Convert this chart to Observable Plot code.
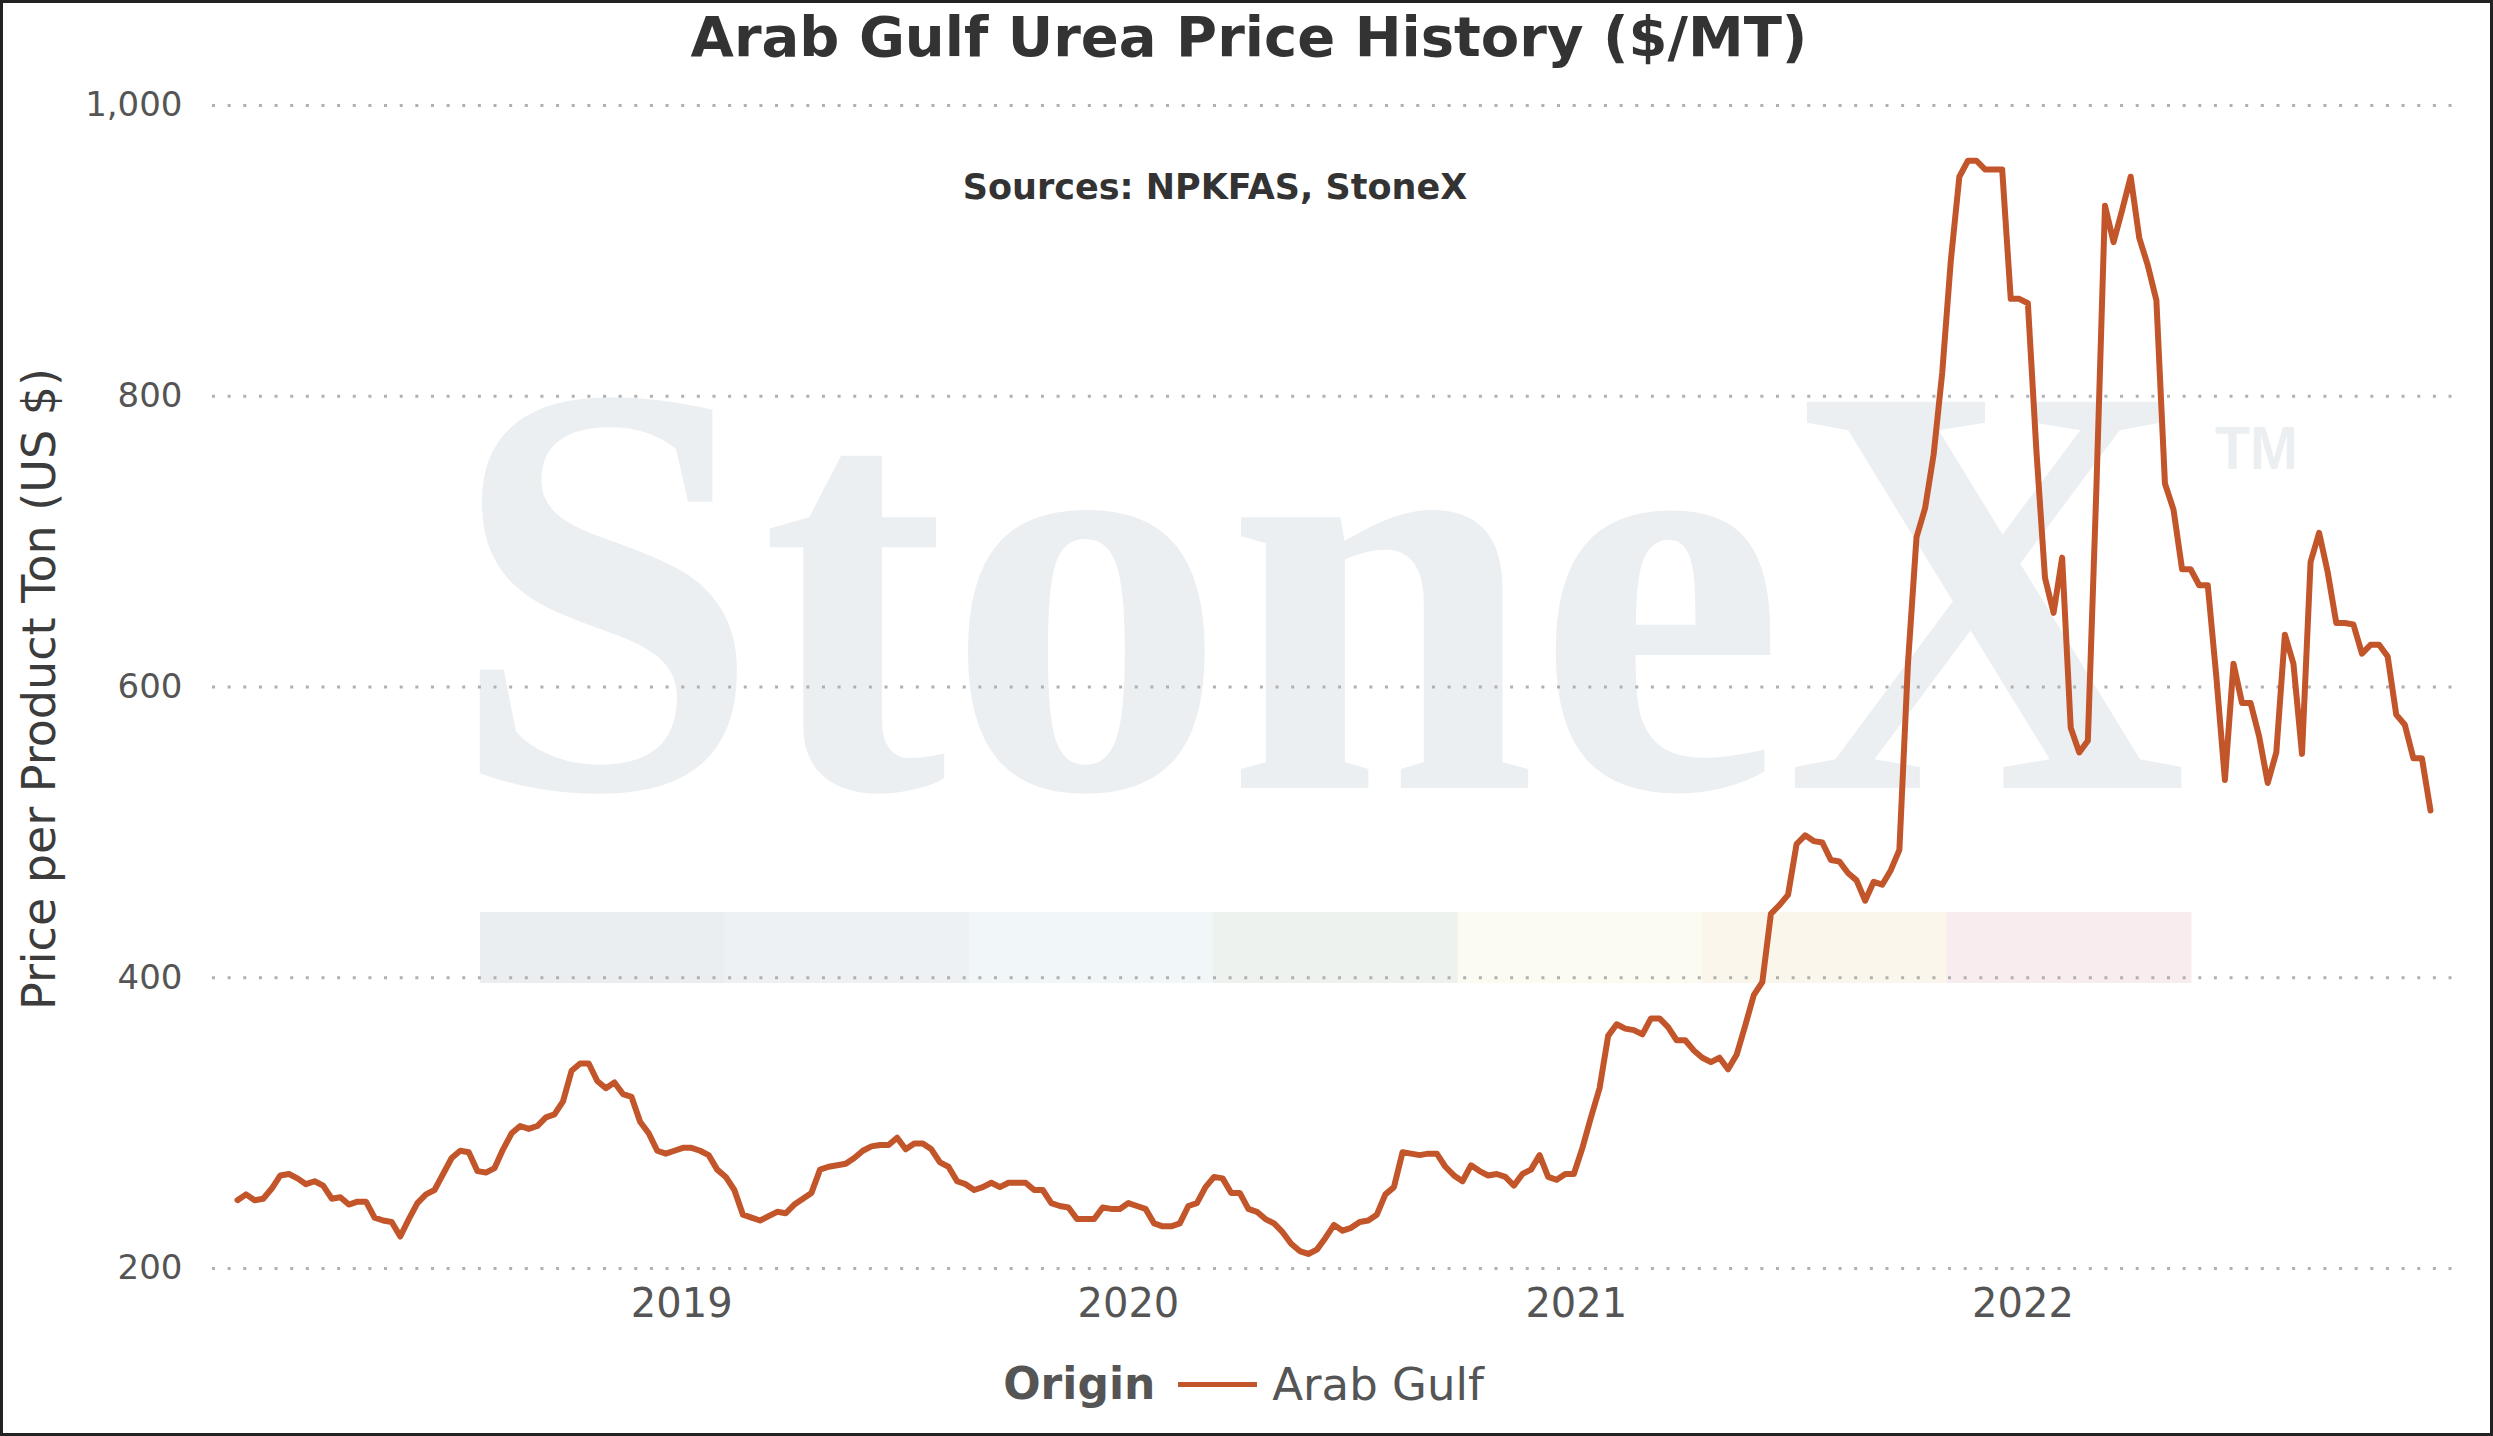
<!DOCTYPE html>
<html><head><meta charset="utf-8">
<script src="https://cdn.jsdelivr.net/npm/d3@7"></script>
<script src="https://cdn.jsdelivr.net/npm/@observablehq/plot@0.6"></script>
<style>
html,body{margin:0;padding:0;background:#fff;}
#wrap{position:relative;width:2493px;height:1436px;overflow:hidden;background:#fff;font-family:"DejaVu Sans",Verdana,sans-serif;}
.abs{position:absolute;line-height:1;white-space:nowrap;}
#frame{position:absolute;left:0;top:0;width:2493px;height:1436px;box-sizing:border-box;border:3px solid #222;pointer-events:none;}
#wm{position:absolute;left:0;top:0;}
#chart{position:absolute;left:0;top:0;width:2493px;}
</style></head><body>
<div id="wrap">
  <svg id="wm" width="2493" height="1436"></svg>
  <div id="chart"></div>
  <div class="abs" id="title" style="left:0;width:2498px;text-align:center;top:9px;font-size:56px;font-weight:bold;color:#333;"></div>
  <div class="abs" id="sources" style="left:1215px;transform:translateX(-50%);top:170px;font-size:35px;font-weight:bold;color:#333;"></div>
  <div class="abs" id="ytitle" style="left:39px;top:689px;transform:translate(-50%,-50%) rotate(-90deg);font-size:46px;color:#3c3c3c;"></div>
  <div class="abs" id="legend" style="left:0;width:2487px;top:1362px;height:44px;display:flex;justify-content:center;align-items:center;color:#555;"></div>
  <div id="frame"></div>
</div>
<script>
const titleText = "Arab Gulf Urea Price History ($/MT)";
const sourcesText = "Sources: NPKFAS, StoneX";
const yTitleText = "Price per Product Ton (US $)";
const legendTitle = "Origin";
const seriesName = "Arab Gulf";
const lineColor = "#c2562a";
const startDate = "2018-01-03"; // weekly observations
const prices = [
  247,251,247,248,255,264,265,262,258,260,
  257,248,249,244,246,246,235,233,232,222,
  234,245,251,254,265,276,281,280,267,266,
  269,282,293,298,296,298,304,306,315,336,
  341,341,329,324,328,320,318,301,293,281,
  279,281,283,283,281,278,268,263,254,237,
  235,233,236,239,238,244,248,252,268,270,
  271,272,276,281,284,285,285,290,
  282,286,286,282,273,270,260,258,254,256,
  259,256,259,259,259,254,254,245,243,242,
  234,234,234,242,241,241,245,243,241,231,
  229,229,231,243,245,256,263,262,252,252,
  241,239,234,231,225,217,212,210,213,221,
  230,226,228,232,233,237,251,256,280,279,
  278,279,279,270,264,260,271,267,264,265,
  263,257,265,268,278,263,261,265,265,
  283,304,324,360,368,365,364,361,372,372,
  366,357,357,350,345,342,345,337,347,367,
  388,397,444,450,457,492,498,494,493,481,
  480,472,467,453,466,464,474,488,
  616,703,723,760,816,893,951,962,962,956,
  956,956,867,867,864,762,675,651,689,572,
  555,563,737,931,906,928,951,909,890,866,
  740,722,681,681,670,670,607,536,616,589,
  589,566,534,555,636,616,554,686,706,679,
  644,644,643,623,629,629,621,581,574,551,
  551,515
];
const yTicks = [200, 400, 600, 800, 1000];
const xTickYears = [2019, 2020, 2021, 2022];
const watermarkText = "StoneX";
const watermarkColors = ["#EBEEF1","#EDF1F4","#F1F6F9","#EDF2EF","#FCFBF2","#FBF6EB","#F9ECEF"];

const start = new Date(startDate + "T00:00:00Z");
const data = prices.map((p, i) => ({date: d3.utcDay.offset(start, 7 * i), price: p}));
const xTicks = xTickYears.map(y => new Date(Date.UTC(y, 0, 1)));

// watermark (decorative background)
const wm = d3.select("#wm");
wm.selectAll("rect").data(watermarkColors).join("rect")
  .attr("x", (d, i) => 480 + i * 244.4).attr("y", 912)
  .attr("width", 245).attr("height", 71).attr("fill", d => d);
const wmText = wm.append("text")
  .attr("font-family", "Liberation Serif").attr("font-weight", "bold").attr("font-size", 590)
  .attr("fill", "#ECEFF2").text(watermarkText);
const natural = wmText.node().getComputedTextLength();
wmText.attr("transform", `translate(450,788) scale(${1738 / natural},1)`);
wm.append("text").attr("x", 2215).attr("y", 469)
  .attr("font-family", "Liberation Sans").attr("font-weight", "bold").attr("font-size", 62)
  .attr("textLength", 83).attr("lengthAdjust", "spacingAndGlyphs")
  .attr("fill", "#ECEFF2").text("TM");

const chart = Plot.plot({
  width: 2493,
  height: 1340,
  marginLeft: 212,
  marginRight: 41,
  marginTop: 105,
  marginBottom: 72,
  style: {background: "transparent", fontFamily: "DejaVu Sans", color: "#555", overflow: "visible"},
  x: {type: "utc", insetLeft: 25, insetRight: 22, label: null},
  y: {domain: [200, 1000], label: null},
  marks: [
    Plot.gridY(yTicks, {stroke: "#b0b0b0", strokeOpacity: 1, strokeWidth: 3, strokeDasharray: "3,12.64"}),
    Plot.axisY(yTicks, {tickSize: 0, tickPadding: 30, fontSize: 34, tickFormat: d3.format(","), label: null}),
    Plot.axisX(xTicks, {tickSize: 0, tickPadding: 20, fontSize: 40, tickFormat: d3.utcFormat("%Y"), label: null}),
    Plot.line(data, {x: "date", y: "price", stroke: lineColor, strokeWidth: 6, strokeLinejoin: "round"})
  ]
});
document.getElementById("chart").appendChild(chart);

document.getElementById("title").textContent = titleText;
document.getElementById("sources").textContent = sourcesText;
document.getElementById("ytitle").textContent = yTitleText;
const legend = d3.select("#legend");
legend.append("span").style("font-size", "44px").style("font-weight", "bold").text(legendTitle);
legend.append("span").style("display", "inline-block").style("width", "79px").style("height", "5px")
  .style("background", lineColor).style("margin", "0 15px 0 23px");
legend.append("span").style("font-size", "45px").text(seriesName);
</script>
</body></html>
